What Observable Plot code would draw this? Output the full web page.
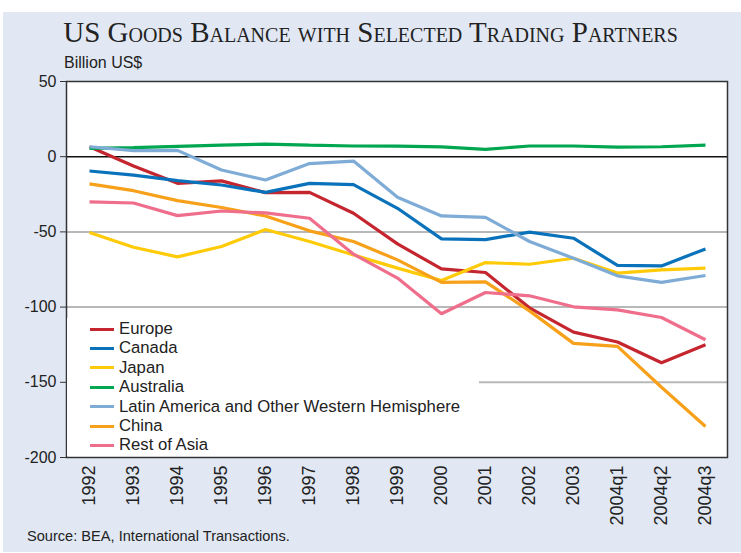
<!DOCTYPE html>
<html>
<head>
<meta charset="utf-8">
<script src="https://cdn.jsdelivr.net/npm/d3@7"></script>
<script src="https://cdn.jsdelivr.net/npm/@observablehq/plot@0.6"></script>
<style>
  html, body { margin: 0; padding: 0; background: #ffffff; }
  #wrap { position: relative; width: 741px; height: 553px; overflow: hidden; }
  #panel { position: absolute; left: 3px; top: 12px; width: 738px; height: 540px; background: #e1e8f3; }
  #title { position: absolute; left: 0; top: 14px; width: 741px; text-align: center; line-height: 36px;
           font-family: "Liberation Serif", "Times New Roman", serif; font-size: 29px;
           font-variant: small-caps; color: #222; }
  #unit { position: absolute; left: 64px; top: 54px; font-family: "Liberation Sans", Arial, sans-serif;
          font-size: 16px; color: #222; }
  #source { position: absolute; left: 27px; top: 528px; font-family: "Liberation Sans", Arial, sans-serif;
            font-size: 14.6px; color: #222; }
  #chart { position: absolute; left: 0; top: 0; }
  #legend { position: absolute; left: 67px; top: 318px; width: 412px; height: 138px; background: #fff;
            font-family: "Liberation Sans", Arial, sans-serif; font-size: 16.7px; color: #222; }
  .row { position: absolute; left: 23px; height: 19px; display: flex; align-items: center; }
  .sw { width: 24px; height: 3px; margin-right: 5px; }
</style>
</head>
<body>
<div id="wrap">
  <div id="panel"></div>
  <div id="chart"></div>
  <div id="title">US Goods Balance with Selected Trading Partners</div>
  <div id="unit">Billion US$</div>
  <div id="legend"></div>
  <div id="source">Source: BEA, International Transactions.</div>
</div>
<script>
const periods = ["1992","1993","1994","1995","1996","1997","1998","1999","2000","2001","2002","2003","2004q1","2004q2","2004q3"];
const seriesNames = ["Europe","Canada","Japan","Australia","Latin America and Other Western Hemisphere","China","Rest of Asia"];
const seriesColors = ["#c4252e","#0a72ba","#ffcb08","#00a650","#7eacd6","#f7a11a","#ef6e8c"];

const europe    = [6.6, -6.2, -17.7, -16.1, -23.9, -23.7, -37.6, -58.0, -74.6, -77.0, -100.5, -116.6, -123.2, -137.0, -125.0];
const canada    = [-9.5, -12.2, -15.9, -18.8, -23.7, -17.7, -18.6, -34.3, -54.6, -55.1, -50.2, -54.2, -72.3, -72.6, -61.3];
const japan     = [-50.4, -60.2, -66.6, -59.7, -48.4, -56.4, -65.3, -74.1, -82.3, -70.4, -71.5, -67.5, -77.4, -75.2, -74.1];
const australia = [5.5, 6.0, 6.9, 7.7, 8.4, 7.7, 7.1, 7.0, 6.5, 4.9, 7.1, 7.1, 6.4, 6.6, 7.7];
const latinAm   = [6.6, 4.0, 4.2, -8.8, -15.5, -4.6, -2.9, -27.0, -39.4, -40.3, -56.4, -67.5, -79.2, -83.6, -79.0];
const china     = [-18.1, -22.6, -29.2, -33.8, -39.4, -49.3, -56.4, -68.6, -83.6, -83.2, -102.5, -124.1, -126.1, -153.3, -179.4];
const restAsia  = [-30.1, -30.8, -39.2, -36.1, -37.4, -40.9, -64.8, -80.7, -104.4, -90.3, -92.5, -99.8, -101.8, -106.9, -121.7];

const yTicks = [50, 0, -50, -100, -150, -200];

const allSeries = [europe, canada, japan, australia, latinAm, china, restAsia];
const rows = [];
seriesNames.forEach((name, i) => {
  periods.forEach((p, j) => rows.push({series: name, period: p, value: allSeries[i][j]}));
});

const chart = Plot.plot({
  width: 741,
  height: 553,
  marginTop: 81,
  marginBottom: 96,
  marginLeft: 66,
  marginRight: 14,
  style: { background: "transparent", fontFamily: "Liberation Sans, Arial, sans-serif", color: "#222" },
  x: { type: "point", domain: periods, padding: 0.5, label: null },
  y: { domain: [-200, 50], label: null },
  color: { domain: seriesNames, range: seriesColors },
  marks: [
    () => {
      const ns = "http://www.w3.org/2000/svg";
      const r = document.createElementNS(ns, "rect");
      r.setAttribute("x", 66); r.setAttribute("y", 81);
      r.setAttribute("width", 661); r.setAttribute("height", 376);
      r.setAttribute("fill", "#ffffff");
      return r;
    },
    Plot.ruleY([-50, -100, -150], { stroke: "#b8b8b8", strokeWidth: 2 }),
    Plot.ruleY([0], { stroke: "#111", strokeWidth: 1.5 }),
    Plot.line(rows, { x: "period", y: "value", z: "series", stroke: "series", strokeWidth: 3.2, strokeLinejoin: "miter", strokeLinecap: "butt" }),
    Plot.frame({ stroke: "#333", strokeWidth: 1.5 }),
    Plot.axisY({ ticks: yTicks, tickSize: 6, tickPadding: 4, fontSize: 16, stroke: "#333", tickFormat: d => String(d).replace("−", "-") }),
    Plot.axisX({ tickSize: 0, tickRotate: -90, tickPadding: 8, fontSize: 18 })
  ]
});
document.getElementById("chart").appendChild(chart);

const legend = document.getElementById("legend");
seriesNames.forEach((name, i) => {
  const row = document.createElement("div");
  row.className = "row";
  row.style.top = (1.5 + i * 19.4) + "px";
  const sw = document.createElement("div");
  sw.className = "sw";
  sw.style.background = seriesColors[i];
  const t = document.createElement("span");
  t.textContent = name;
  row.appendChild(sw); row.appendChild(t);
  legend.appendChild(row);
});
</script>
</body>
</html>
